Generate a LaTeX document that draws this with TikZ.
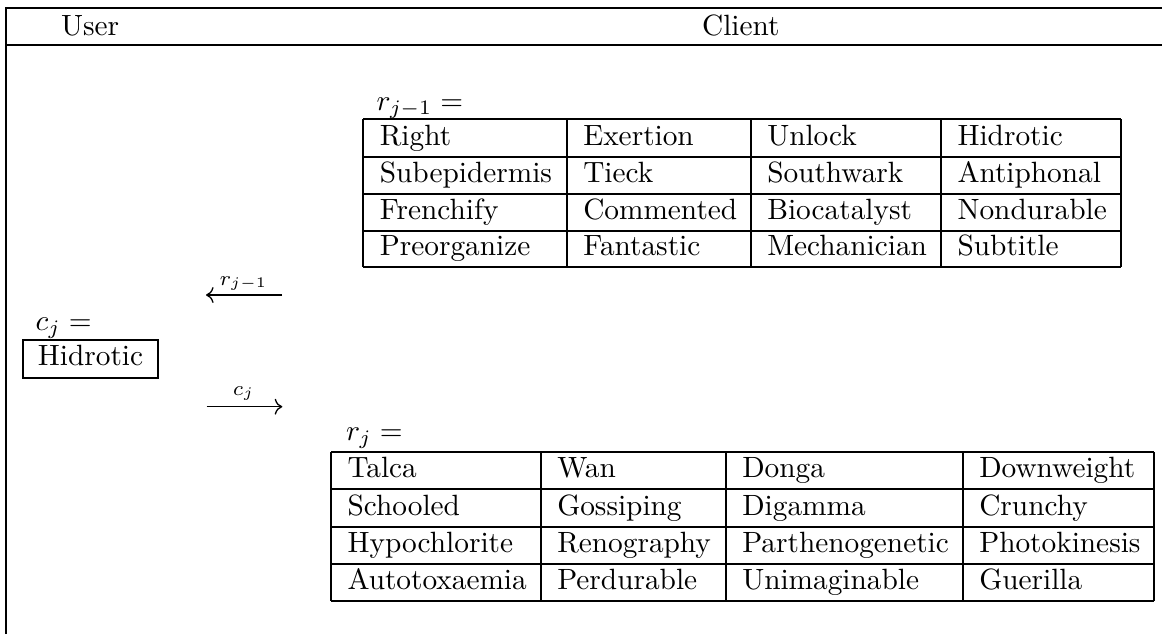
\documentclass[tikz,border=0pt]{standalone}
\usetikzlibrary{arrows.meta}
\begin{document}
\begin{tikzpicture}[x=0.341pt, y=-0.341pt,
  rule/.style={line width=0.75pt},
  txt/.style={anchor=base west, inner sep=0pt},
  lbl/.style={anchor=base, inner sep=0pt},
  flow/.style={line width=0.45pt, -{Computer Modern Rightarrow}}]
\useasboundingbox (0,0) rectangle (1162,635);
% outer tabular rules
\draw[rule] (6,634) -- (6,8.3) -- (1162,8.3);
\draw[rule] (6,45) -- (1162,45);
\node[txt] (user) at (60.5,35.5) {User};
\node[txt] (client) at (701.5,35.5) {Client};

% table r_{j-1}
\node[txt] (rjm1) at (376,110) {$r_{j-1} =$};
\foreach \y in {119.3,156.7,194,230.7,267.3} \draw[rule] (363.3,\y) -- (1121,\y);
\foreach \x in {363.3,566.7,750.7,941,1121} \draw[rule] (\x,119.3) -- (\x,267.3);
\node[txt] (a11) at (379.3,145.2) {Right};
\node[txt] (a12) at (582.7,145.2) {Exertion};
\node[txt] (a13) at (766.7,145.2) {Unlock};
\node[txt] (a14) at (957,145.2) {Hidrotic};
\node[txt] (a21) at (379.3,182.5) {Subepidermis};
\node[txt] (a22) at (582.7,182.5) {Tieck};
\node[txt] (a23) at (766.7,182.5) {Southwark};
\node[txt] (a24) at (957,182.5) {Antiphonal};
\node[txt] (a31) at (379.3,219.2) {Frenchify};
\node[txt] (a32) at (582.7,219.2) {Commented};
\node[txt] (a33) at (766.7,219.2) {Biocatalyst};
\node[txt] (a34) at (957,219.2) {Nondurable};
\node[txt] (a41) at (379.3,255.8) {Preorganize};
\node[txt] (a42) at (582.7,255.8) {Fantastic};
\node[txt] (a43) at (766.7,255.8) {Mechanician};
\node[txt] (a44) at (957,255.8) {Subtitle};

% table r_j
\node[txt] (rj) at (345.5,440) {$r_{j} =$};
\foreach \y in {452.3,489.3,526.7,564,601} \draw[rule] (331,\y) -- (1154,\y);
\foreach \x in {331,540.7,725.7,962.7,1154} \draw[rule] (\x,452.3) -- (\x,601);
\node[txt] (b11) at (347,477.8) {Talca};
\node[txt] (b12) at (556.7,477.8) {Wan};
\node[txt] (b13) at (741.7,477.8) {Donga};
\node[txt] (b14) at (978.7,477.8) {Downweight};
\node[txt] (b21) at (347,515.2) {Schooled};
\node[txt] (b22) at (556.7,515.2) {Gossiping};
\node[txt] (b23) at (741.7,515.2) {Digamma};
\node[txt] (b24) at (978.7,515.2) {Crunchy};
\node[txt] (b31) at (347,552.5) {Hypochlorite};
\node[txt] (b32) at (556.7,552.5) {Renography};
\node[txt] (b33) at (741.7,552.5) {Parthenogenetic};
\node[txt] (b34) at (978.7,552.5) {Photokinesis};
\node[txt] (b41) at (347,589.5) {Autotoxaemia};
\node[txt] (b42) at (556.7,589.5) {Perdurable};
\node[txt] (b43) at (741.7,589.5) {Unimaginable};
\node[txt] (b44) at (978.7,589.5) {Guerilla};

% user side
\node[txt] (cj) at (35,330.5) {$c_j =$};
\node[draw, line width=0.75pt, inner sep=0pt, minimum width=46pt,
      text height=8.6pt, text depth=4.2pt, anchor=south west] (hid) at (22,379) {Hidrotic};

% arrows
\coordinate (r1) at (282,295);
\coordinate (r0) at (206,295);
\draw[flow] (r1) -- (r0);
\node[lbl] (rlab) at (243.5,285) {$\scriptstyle r_{j-1}$};
\coordinate (c0) at (206.7,406.7);
\coordinate (c1) at (282.3,406.7);
\draw[flow] (c0) -- (c1);
\node[lbl] (clab) at (243.5,395) {$\scriptstyle c_j$};
\end{tikzpicture}
\end{document}
